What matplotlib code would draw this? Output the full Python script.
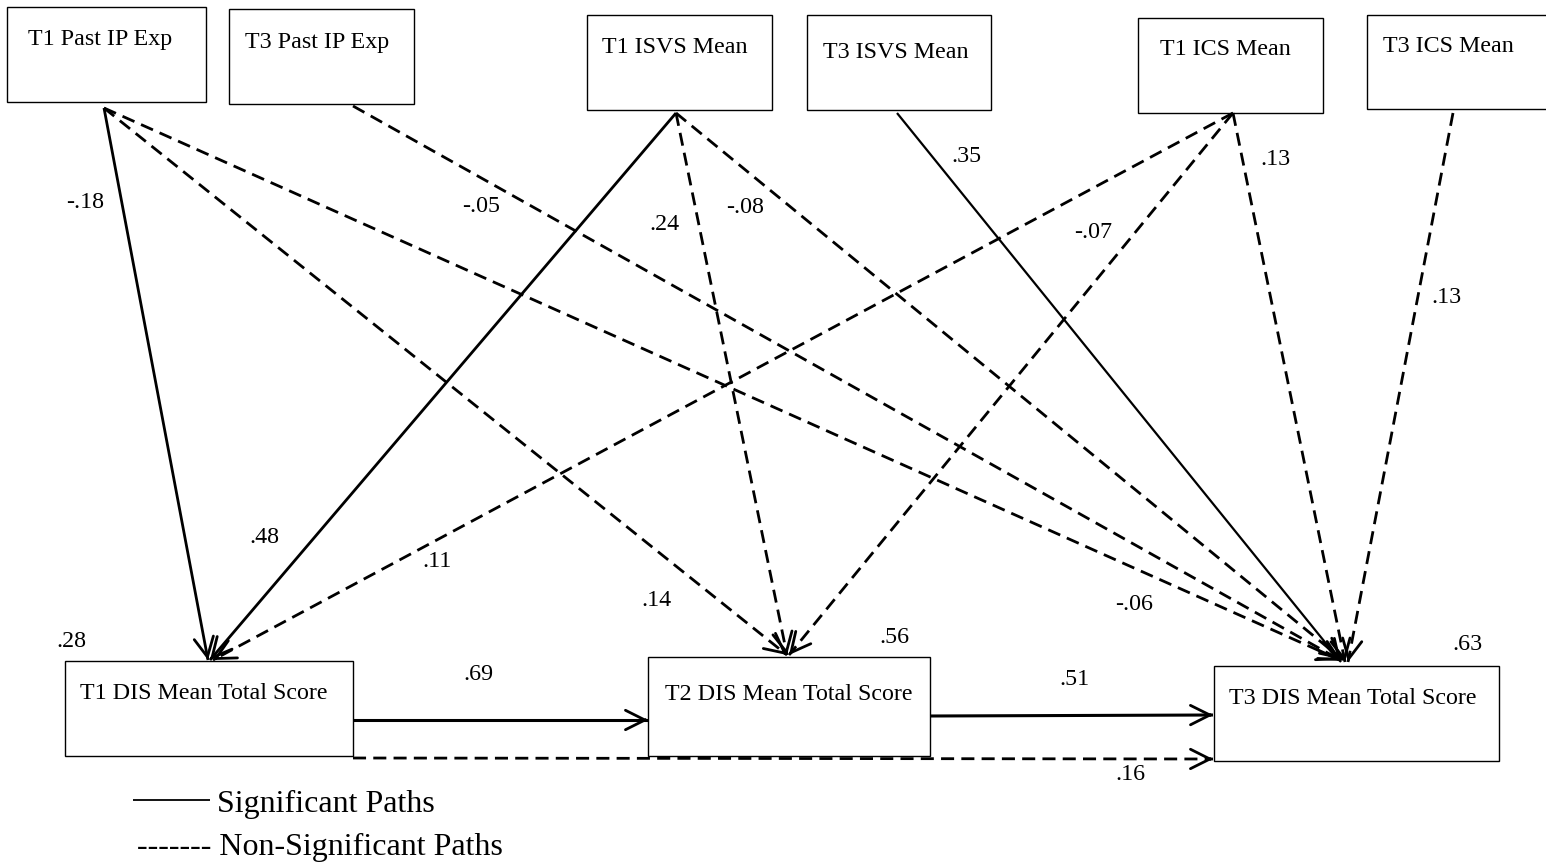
import matplotlib
matplotlib.use("Agg")
import matplotlib.pyplot as plt
from matplotlib.patches import Rectangle, FancyArrowPatch

# ---------------- data ----------------
node_names = ["T1 Past IP Exp", "T3 Past IP Exp", "T1 ISVS Mean", "T3 ISVS Mean",
              "T1 ICS Mean", "T3 ICS Mean", "T1 DIS Mean Total Score",
              "T2 DIS Mean Total Score", "T3 DIS Mean Total Score"]

path_from = ["T1 Past IP Exp", "T1 Past IP Exp", "T1 Past IP Exp", "T3 Past IP Exp",
             "T1 ISVS Mean", "T1 ISVS Mean", "T1 ISVS Mean", "T3 ISVS Mean",
             "T1 ICS Mean", "T1 ICS Mean", "T1 ICS Mean", "T3 ICS Mean",
             "T1 DIS Mean Total Score", "T2 DIS Mean Total Score", "T1 DIS Mean Total Score"]
path_to = ["T1 DIS Mean Total Score", "T2 DIS Mean Total Score", "T3 DIS Mean Total Score",
           "T3 DIS Mean Total Score",
           "T1 DIS Mean Total Score", "T2 DIS Mean Total Score", "T3 DIS Mean Total Score",
           "T3 DIS Mean Total Score",
           "T1 DIS Mean Total Score", "T2 DIS Mean Total Score", "T3 DIS Mean Total Score",
           "T3 DIS Mean Total Score",
           "T2 DIS Mean Total Score", "T3 DIS Mean Total Score", "T3 DIS Mean Total Score"]
path_coef = [-0.18, 0.14, -0.06, -0.05, 0.48, 0.24, -0.08, 0.35,
             0.11, -0.07, 0.13, 0.13, 0.69, 0.51, 0.16]
path_sig = [True, False, False, False, True, False, False, True,
            False, False, False, False, True, True, False]

r2_nodes = ["T1 DIS Mean Total Score", "T2 DIS Mean Total Score", "T3 DIS Mean Total Score"]
r2_values = [0.28, 0.56, 0.63]

legend_labels = ["Significant Paths", "Non-Significant Paths"]

# ---------------- layout (pixel space) ----------------
W, H = 1546, 863
box_geom = {  # x0, y0, x1, y1, text_x, text_baseline
    "T1 Past IP Exp": (7, 7, 206, 102, 28, 45),
    "T3 Past IP Exp": (229, 9, 414, 104, 245, 48),
    "T1 ISVS Mean": (587, 15, 772, 110, 602, 53),
    "T3 ISVS Mean": (807, 15, 991, 110, 823, 58),
    "T1 ICS Mean": (1138, 18, 1323, 113, 1160, 55),
    "T3 ICS Mean": (1367, 15, 1600, 109, 1383, 52),
    "T1 DIS Mean Total Score": (65, 661, 353, 756, 80, 699),
    "T2 DIS Mean Total Score": (648, 657, 930, 756, 665, 700),
    "T3 DIS Mean Total Score": (1214, 666, 1499, 761, 1229, 704),
}
path_geom = [  # start, end, label position (center x, baseline), line width
    ((104, 108), (208, 660), (85, 208), 2.0),
    ((104, 108), (787, 655), (656, 606), 2.0),
    ((104, 108), (1340, 660), (1134, 610), 2.0),
    ((353, 106), (1342, 661), (481, 212), 2.0),
    ((676, 113), (210, 660), (264, 543), 2.0),
    ((676, 113), (787, 655), (664, 230), 2.0),
    ((676, 113), (1343, 660), (745, 213), 2.0),
    ((897, 113), (1341, 662), (966, 162), 1.6),
    ((1233, 113), (213, 660), (437, 567), 2.0),
    ((1233, 113), (789, 655), (1093, 238), 2.0),
    ((1233, 113), (1345, 662), (1275, 165), 2.0),
    ((1453, 113), (1348, 662), (1446, 303), 2.0),
    ((353, 720), (648, 720), (478, 680), 2.2),
    ((930, 716), (1213, 715), (1074, 685), 2.2),
    ((353, 758), (1213, 759), (1130, 780), 2.0),
]
r2_geom = {"T1 DIS Mean Total Score": (71, 647),
           "T2 DIS Mean Total Score": (894, 643),
           "T3 DIS Mean Total Score": (1467, 650)}

SERIF = ["Liberation Serif", "DejaVu Serif"]
FS = 17.3
LEG_FS = 23


def fmt(v):
    s = f"{v:.2f}"
    return s.replace("0.", ".", 1)


fig = plt.figure(figsize=(W / 100, H / 100), dpi=100)
ax = fig.add_axes([0, 0, 1, 1])
ax.set_xlim(0, W)
ax.set_ylim(H, 0)
ax.axis("off")

# boxes
for name in node_names:
    x0, y0, x1, y1, tx, ty = box_geom[name]
    ax.add_patch(Rectangle((x0, y0), x1 - x0, y1 - y0, fill=False,
                           edgecolor="black", linewidth=1.0, zorder=3))
    ax.text(tx, ty, name, family=SERIF, fontsize=FS, ha="left", va="baseline",
            color="black", zorder=4)

# paths
for i, coef in enumerate(path_coef):
    (xs, ys), (xe, ye), (lx, ly), lw = path_geom[i]
    sig = path_sig[i]
    if sig:
        ax.plot([xs, xe], [ys, ye], color="black", lw=lw, solid_capstyle="butt", zorder=2)
    else:
        ax.plot([xs, xe], [ys, ye], color="black", lw=lw, dashes=(4.7, 2.6),
                dash_capstyle="butt", zorder=2)
    # solid open arrowhead at the end
    dx, dy = xe - xs, ye - ys
    d = (dx * dx + dy * dy) ** 0.5
    px, py = xe - dx / d * 3, ye - dy / d * 3
    ax.add_patch(FancyArrowPatch((px, py), (xe, ye),
                                 arrowstyle="->,head_length=14,head_width=7",
                                 mutation_scale=1, lw=2.0, color="black",
                                 shrinkA=0, shrinkB=0, zorder=2))
    ax.text(lx, ly, fmt(coef), family=SERIF, fontsize=FS, ha="center",
            va="baseline", color="black", zorder=4)

# R squared values
for name, v in zip(r2_nodes, r2_values):
    x, y = r2_geom[name]
    ax.text(x, y, fmt(v), family=SERIF, fontsize=FS, ha="center", va="baseline",
            color="black", zorder=4)

# legend
ax.plot([133, 210], [800, 800], color="black", lw=1.3, solid_capstyle="butt")
ax.text(217, 812, legend_labels[0], family=SERIF, fontsize=LEG_FS,
        ha="left", va="baseline", color="black")
ax.text(137, 855, "------- " + legend_labels[1], family=SERIF, fontsize=LEG_FS,
        ha="left", va="baseline", color="black")

fig.savefig("out.png", dpi=100, facecolor="white")
